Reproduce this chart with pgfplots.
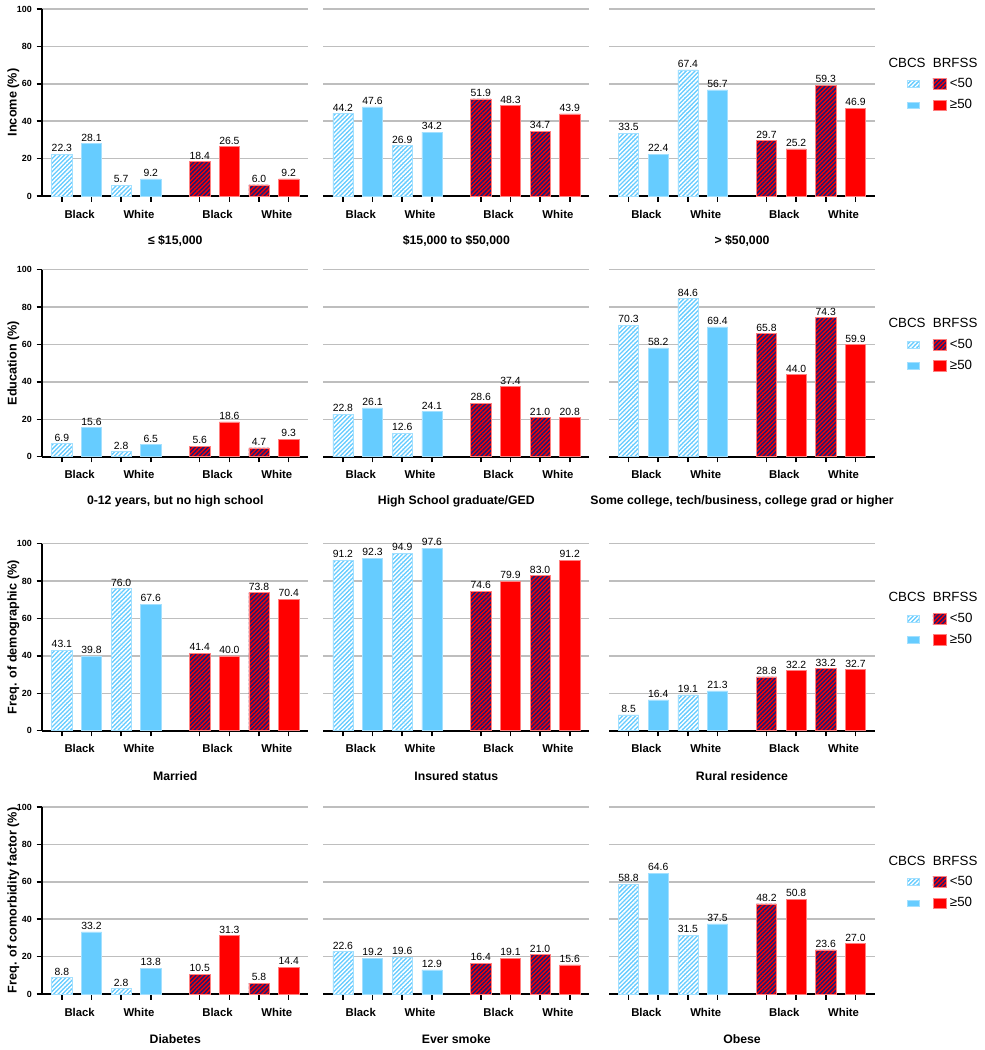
\documentclass[border=0pt]{standalone}
\usepackage{fontspec}
\setmainfont{Liberation Sans}
\usepackage{pgfplots}
\pgfplotsset{compat=1.18}
\usetikzlibrary{patterns,patterns.meta}
\definecolor{cblue}{RGB}{102,204,255}
\definecolor{cred}{RGB}{255,0,0}
\definecolor{navy}{RGB}{28,28,120}
\definecolor{gridgray}{RGB}{190,190,190}
\pgfplotsset{
  base/.style={
    scale only axis, width=199.5pt, height=140.25pt,
    xmin=-0.66, xmax=8.31, ymin=0, ymax=100,
    enlargelimits=false, clip=false,
    ybar, bar width=0.68,
    every axis plot/.append style={bar shift=0pt},
    axis x line*=bottom, axis y line*=left,
    x axis line style={line width=1.5pt, black},
    xtick={0,1,2,3,4.65,5.65,6.65,7.65}, xticklabels={},
    xtick style={line width=1.1pt, black},
    tick align=outside, major tick length=4.3pt,
    extra x ticks={0.6,2.6,5.25,7.25},
    extra x tick labels={Black,White,Black,White},
    extra x tick style={major tick length=0pt, grid=none},
    xticklabel style={font=\bfseries\fontsize{8.5}{10}\selectfont, yshift=-7pt},
    ymajorgrids, grid style={line width=1.1pt, gridgray},
    ytick={0,20,40,60,80,100},
    nodes near coords={\pgfmathprintnumber[fixed,fixed zerofill,precision=1]{\pgfplotspointmeta}},
    nodes near coords align=vertical,
    every node near coord/.append style={font=\fontsize{7.8}{9}\selectfont, inner sep=1.5pt, black},
    /pgf/number format/assume math mode=true,
    xlabel style={font=\bfseries\fontsize{9.2}{11}\selectfont, at={(axis description cs:0.5,0)}, anchor=center, yshift=-33.75pt},
  },
  leftcol/.style={base,
    y axis line style={line width=1.5pt, black},
    ytick style={line width=1.1pt, black},
    yticklabel style={font=\bfseries\fontsize{6.7}{8}\selectfont},
    ylabel style={font=\bfseries\fontsize{9.5}{11}\selectfont, at={(axis description cs:-0.109,0.5)}, anchor=center}},
  othercol/.style={base, y axis line style={draw=none}, ytick style={draw=none}, yticklabels={}},
  legcol/.style={othercol,
    legend columns=2,
    legend cell align=left,
    legend style={at={(1.12,0.648)}, anchor=north west, draw=none, fill=none, inner sep=0pt,
      font=\fontsize{10}{12}\selectfont, nodes={inner sep=2.5pt},
      /tikz/every even column/.append style={column sep=4.75pt}, row sep=2.4pt}},
  cbA/.style={fill=cblue, draw=cblue!60!white, line width=0.4pt,
    postaction={pattern={Lines[angle=45,distance=2.3pt,line width=1.1pt]}, pattern color=white},
    legend image code/.code={\draw[##1] (0pt,-2.6pt) rectangle (9pt,2.6pt);}},
  cbB/.style={fill=cblue, draw=cblue!60!white, line width=0.4pt,
    legend image code/.code={\draw[##1] (0pt,-2.6pt) rectangle (9pt,2.6pt);}},
  brA/.style={fill=cred, draw=cred!50!white, line width=0.4pt,
    postaction={pattern={Lines[angle=45,distance=2.3pt,line width=1.1pt]}, pattern color=navy},
    legend image code/.code={\draw[##1] (0pt,-4pt) rectangle (10pt,4pt);}},
  brB/.style={fill=cred, draw=cred!50!white, line width=0.4pt,
    legend image code/.code={\draw[##1] (0pt,-4pt) rectangle (10pt,4pt);}},
}
\newcommand{\header}{\node[anchor=west, font=\fontsize{10}{12}\selectfont, inner sep=0pt] at (rel axis cs:1.050,0.714) {CBCS\hspace{5.5pt}BRFSS};}
\begin{document}
\begin{tikzpicture}
\useasboundingbox (0,0) rectangle (738.75pt,787.5pt);

% ---------- Row 1 ----------
\begin{axis}[leftcol, at={(31.7pt,640.5pt)}, anchor=south west, ylabel={Income (\%)}, xlabel={≤ \$15,000}]
\addplot[cbA] coordinates {(0,22.3) (2,5.7)};
\addplot[brA] coordinates {(4.65,18.4) (6.65,6.0)};
\addplot[cbB] coordinates {(1,28.1) (3,9.2)};
\addplot[brB] coordinates {(5.65,26.5) (7.65,9.2)};
\end{axis}
\begin{axis}[othercol, at={(242.5pt,640.5pt)}, anchor=south west, xlabel={\$15,000 to \$50,000}]
\addplot[cbA] coordinates {(0,44.2) (2,26.9)};
\addplot[brA] coordinates {(4.65,51.9) (6.65,34.7)};
\addplot[cbB] coordinates {(1,47.6) (3,34.2)};
\addplot[brB] coordinates {(5.65,48.3) (7.65,43.9)};
\end{axis}
\begin{axis}[legcol, at={(456.75pt,640.5pt)}, anchor=south west, xlabel={> \$50,000}]
\addplot[cbA] coordinates {(0,33.5) (2,67.4)}; \addlegendentry{}
\addplot[brA] coordinates {(4.65,29.7) (6.65,59.3)}; \addlegendentry{<50}
\addplot[cbB] coordinates {(1,22.4) (3,56.7)}; \addlegendentry{}
\addplot[brB] coordinates {(5.65,25.2) (7.65,46.9)}; \addlegendentry{≥50}
\header
\end{axis}

% ---------- Row 2 ----------
\begin{axis}[leftcol, at={(31.7pt,445.0pt)}, anchor=south west, ylabel={Education (\%)}, xlabel={0-12 years, but no high school}]
\addplot[cbA] coordinates {(0,6.9) (2,2.8)};
\addplot[brA] coordinates {(4.65,5.6) (6.65,4.7)};
\addplot[cbB] coordinates {(1,15.6) (3,6.5)};
\addplot[brB] coordinates {(5.65,18.6) (7.65,9.3)};
\end{axis}
\begin{axis}[othercol, at={(242.5pt,445.0pt)}, anchor=south west, xlabel={High School graduate/GED}]
\addplot[cbA] coordinates {(0,22.8) (2,12.6)};
\addplot[brA] coordinates {(4.65,28.6) (6.65,21.0)};
\addplot[cbB] coordinates {(1,26.1) (3,24.1)};
\addplot[brB] coordinates {(5.65,37.4) (7.65,20.8)};
\end{axis}
\begin{axis}[legcol, at={(456.75pt,445.0pt)}, anchor=south west, xlabel={Some college, tech/business, college grad or higher}]
\addplot[cbA] coordinates {(0,70.3) (2,84.6)}; \addlegendentry{}
\addplot[brA] coordinates {(4.65,65.8) (6.65,74.3)}; \addlegendentry{<50}
\addplot[cbB] coordinates {(1,58.2) (3,69.4)}; \addlegendentry{}
\addplot[brB] coordinates {(5.65,44.0) (7.65,59.9)}; \addlegendentry{≥50}
\header
\end{axis}

% ---------- Row 3 ----------
\begin{axis}[leftcol, at={(31.7pt,239.5pt)}, anchor=south west, ylabel={Freq. of demographic (\%)}, xlabel={Married}]
\addplot[cbA] coordinates {(0,43.1) (2,76.0)};
\addplot[brA] coordinates {(4.65,41.4) (6.65,73.8)};
\addplot[cbB] coordinates {(1,39.8) (3,67.6)};
\addplot[brB] coordinates {(5.65,40.0) (7.65,70.4)};
\end{axis}
\begin{axis}[othercol, at={(242.5pt,239.5pt)}, anchor=south west, xlabel={Insured status}]
\addplot[cbA] coordinates {(0,91.2) (2,94.9)};
\addplot[brA] coordinates {(4.65,74.6) (6.65,83.0)};
\addplot[cbB] coordinates {(1,92.3) (3,97.6)};
\addplot[brB] coordinates {(5.65,79.9) (7.65,91.2)};
\end{axis}
\begin{axis}[legcol, at={(456.75pt,239.5pt)}, anchor=south west, xlabel={Rural residence}]
\addplot[cbA] coordinates {(0,8.5) (2,19.1)}; \addlegendentry{}
\addplot[brA] coordinates {(4.65,28.8) (6.65,33.2)}; \addlegendentry{<50}
\addplot[cbB] coordinates {(1,16.4) (3,21.3)}; \addlegendentry{}
\addplot[brB] coordinates {(5.65,32.2) (7.65,32.7)}; \addlegendentry{≥50}
\header
\end{axis}

% ---------- Row 4 ----------
\begin{axis}[leftcol, at={(31.7pt,42.0pt)}, anchor=south west, ylabel={Freq. of comorbidity factor (\%)}, xlabel={Diabetes}]
\addplot[cbA] coordinates {(0,8.8) (2,2.8)};
\addplot[brA] coordinates {(4.65,10.5) (6.65,5.8)};
\addplot[cbB] coordinates {(1,33.2) (3,13.8)};
\addplot[brB] coordinates {(5.65,31.3) (7.65,14.4)};
\end{axis}
\begin{axis}[othercol, at={(242.5pt,42.0pt)}, anchor=south west, xlabel={Ever smoke}]
\addplot[cbA] coordinates {(0,22.6) (2,19.6)};
\addplot[brA] coordinates {(4.65,16.4) (6.65,21.0)};
\addplot[cbB] coordinates {(1,19.2) (3,12.9)};
\addplot[brB] coordinates {(5.65,19.1) (7.65,15.6)};
\end{axis}
\begin{axis}[legcol, at={(456.75pt,42.0pt)}, anchor=south west, xlabel={Obese}]
\addplot[cbA] coordinates {(0,58.8) (2,31.5)}; \addlegendentry{}
\addplot[brA] coordinates {(4.65,48.2) (6.65,23.6)}; \addlegendentry{<50}
\addplot[cbB] coordinates {(1,64.6) (3,37.5)}; \addlegendentry{}
\addplot[brB] coordinates {(5.65,50.8) (7.65,27.0)}; \addlegendentry{≥50}
\header
\end{axis}
\end{tikzpicture}
\end{document}
